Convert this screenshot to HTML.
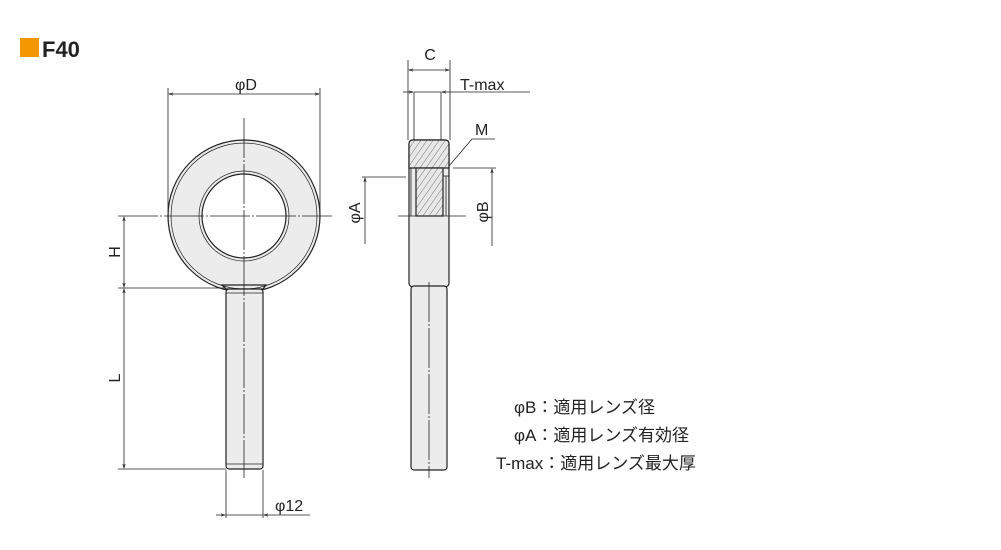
<!DOCTYPE html>
<html><head><meta charset="utf-8"><style>
html,body{margin:0;padding:0;background:#fff;}
svg{display:block;}
text{font-family:"Liberation Sans","Noto Sans CJK JP",sans-serif;fill:#222;}
</style></head><body>
<svg width="1001" height="550" viewBox="0 0 1001 550" xmlns="http://www.w3.org/2000/svg">
<defs>
<pattern id="h" width="5" height="5" patternUnits="userSpaceOnUse" patternTransform="rotate(35)">
<rect width="5" height="5" fill="#e8e8e8"/><line x1="0" y1="0" x2="0" y2="5" stroke="#444" stroke-width="0.7"/></pattern>
<marker id="a" markerWidth="6" markerHeight="6" refX="5" refY="3" orient="auto-start-reverse"><path d="M0,1.5 L5,3 L0,4.5" fill="none" stroke="#222" stroke-width="0.8"/></marker>
</defs>
<rect x="20" y="38" width="19" height="19" fill="#f39800"/>
<text x="42" y="57" font-size="22" font-weight="bold">F40</text>

<!-- front ring -->
<g stroke="#222" stroke-width="1.2" fill="#ececec">
<path fill-rule="evenodd" d="M168,216 a76,76 0 1,0 152,0 a76,76 0 1,0 -152,0 Z M202,216 a42,42 0 1,0 84,0 a42,42 0 1,0 -84,0 Z"/>
<path d="M222,285 L266,285 L263,289 L226,289 Z"/>
<rect x="226" y="289" width="37" height="180" rx="3"/>
</g>
<circle cx="244" cy="216" r="73" fill="none" stroke="#222" stroke-width="0.7"/>
<circle cx="244" cy="216" r="45" fill="none" stroke="#222" stroke-width="0.7"/>
<line x1="226" y1="293" x2="263" y2="293" stroke="#222" stroke-width="0.7"/>
<line x1="226" y1="464" x2="263" y2="464" stroke="#222" stroke-width="0.7"/>
<g stroke="#222" stroke-width="0.8" fill="none">
<line x1="244" y1="118" x2="244" y2="478" stroke-dasharray="40,2,2,2"/>
<line x1="118" y1="216" x2="332" y2="216" stroke-dasharray="40,2,2,2"/>
<line x1="168" y1="88" x2="168" y2="214"/><line x1="320" y1="88" x2="320" y2="214"/>
<line x1="169" y1="94" x2="319" y2="94" marker-start="url(#a)" marker-end="url(#a)"/>
<line x1="118" y1="288" x2="226" y2="288"/>
<line x1="118" y1="469" x2="226" y2="469"/>
<line x1="124" y1="217" x2="124" y2="287" marker-start="url(#a)" marker-end="url(#a)"/>
<line x1="124" y1="289" x2="124" y2="468" marker-start="url(#a)" marker-end="url(#a)"/>
<line x1="226" y1="470" x2="226" y2="518"/><line x1="263" y1="470" x2="263" y2="518"/>
<line x1="216" y1="515" x2="225" y2="515" marker-end="url(#a)"/>
<line x1="310" y1="515" x2="264" y2="515" marker-end="url(#a)"/>
<line x1="226" y1="515" x2="263" y2="515"/>
</g>
<text x="246" y="90" font-size="16" text-anchor="middle">φD</text>
<text x="120" y="252" font-size="16" text-anchor="middle" transform="rotate(-90 120 252)">H</text>
<text x="120" y="378" font-size="16" text-anchor="middle" transform="rotate(-90 120 378)">L</text>
<text x="275" y="511" font-size="16">φ12</text>

<!-- side view -->
<g stroke="#222" stroke-width="1.2">
<rect x="409" y="140" width="40" height="147" rx="4" fill="#ececec"/>
<rect x="411" y="286" width="36" height="184" rx="3" fill="#ececec"/>
<path d="M413,140 H445 Q449,140 449,144 V168 H409 V144 Q409,140 413,140 Z" fill="url(#h)"/>
<rect x="416" y="168" width="27" height="48" fill="url(#h)"/>
</g>
<g stroke="#222" stroke-width="0.8" fill="none">
<line x1="411" y1="168" x2="411" y2="216"/><line x1="446" y1="176" x2="446" y2="216"/>
<line x1="443" y1="176" x2="449" y2="176"/>
<line x1="429" y1="282" x2="429" y2="478" stroke-dasharray="40,2,2,2"/>
<line x1="408" y1="60" x2="408" y2="140"/><line x1="450" y1="60" x2="450" y2="140"/>
<line x1="409" y1="70" x2="449" y2="70" marker-start="url(#a)" marker-end="url(#a)"/>
<line x1="414" y1="92" x2="414" y2="140"/><line x1="441" y1="92" x2="441" y2="140"/>
<line x1="403" y1="92" x2="413" y2="92" marker-end="url(#a)"/>
<line x1="530" y1="92" x2="442" y2="92" marker-end="url(#a)"/>
<line x1="414" y1="92" x2="441" y2="92"/>
<line x1="472" y1="139" x2="495" y2="139"/>
<line x1="472" y1="139" x2="449" y2="166"/>
<line x1="362" y1="177" x2="406" y2="177"/>
<line x1="365" y1="178" x2="365" y2="244" marker-start="url(#a)"/>
<line x1="453" y1="168" x2="496" y2="168"/>
<line x1="492" y1="169" x2="492" y2="246" marker-start="url(#a)"/>
<line x1="398" y1="216" x2="466" y2="216"/>
</g>
<text x="430" y="60" font-size="16" text-anchor="middle">C</text>
<text x="460" y="90" font-size="16">T-max</text>
<text x="475" y="135" font-size="16">M</text>
<text x="360" y="213" font-size="16" text-anchor="middle" transform="rotate(-90 360 213)">φA</text>
<text x="488" y="212" font-size="16" text-anchor="middle" transform="rotate(-90 488 212)">φB</text>

<g font-size="17">
<text x="514" y="413">φB：適用レンズ径</text>
<text x="514" y="441">φA：適用レンズ有効径</text>
<text x="496" y="469">T-max：適用レンズ最大厚</text>
</g>
</svg>
</body></html>
